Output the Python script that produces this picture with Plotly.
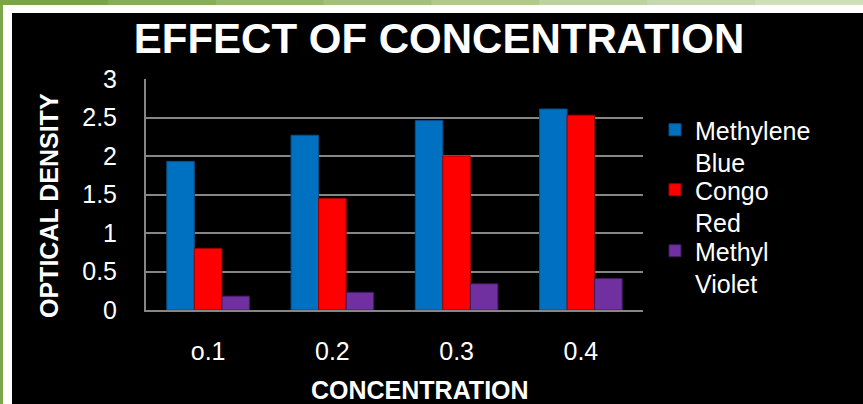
import plotly.graph_objects as go

# Absorbance readings per dye at each concentration
concentrations = ["o.1", "0.2", "0.3", "0.4"]
methylene_blue = [1.93, 2.27, 2.46, 2.61]
congo_red = [0.80, 1.45, 2.00, 2.53]
methyl_violet = [0.18, 0.23, 0.34, 0.41]
series_names = ["Methylene<br>Blue", "Congo<br>Red", "Methyl<br>Violet"]

W, H = 863, 404
L, R, T, B = 146, 220, 79, 94
PW, PH = W - L - R, H - T - B

FONT = "Liberation Sans, Arial, sans-serif"


def px(x):
    return (x - L) / PW


def py(y):
    return (H - B - y) / PH


fig = go.Figure()
colors = ["#0070C0", "#FF0000", "#7030A0"]
edges = ["#0a4f86", "#a00000", "#3f1a5c"]
legend_ids = ["legend", "legend2", "legend3"]
for name, vals, c, e, lg in zip(series_names, [methylene_blue, congo_red, methyl_violet],
                                colors, edges, legend_ids):
    fig.add_trace(go.Bar(
        x=concentrations, y=vals, name=name, legend=lg,
        marker=dict(color=c, line=dict(color=e, width=1)),
    ))

shapes = []
# green backdrop strip along the top, darker on the left, paler to the right
greens = ["#79a548", "#86ae58", "#94b76a", "#a2c07c", "#b0c98e", "#bcd29f", "#c6d9ae", "#cde0b8"]
seg = W / len(greens)
for i, g in enumerate(greens):
    shapes.append(dict(type="rect", xref="paper", yref="paper", layer="below",
                       x0=px(i * seg), x1=px((i + 1) * seg + 1), y0=py(0), y1=py(6),
                       fillcolor=g, line=dict(width=0)))
# white frame and black panel
shapes.append(dict(type="rect", xref="paper", yref="paper", layer="below",
                   x0=px(3), x1=px(W + 2), y0=py(5), y1=py(H + 2),
                   fillcolor="white", line=dict(width=0)))
shapes.append(dict(type="rect", xref="paper", yref="paper", layer="below",
                   x0=px(12), x1=px(W + 2), y0=py(13), y1=py(H + 2),
                   fillcolor="black", line=dict(width=0)))


def legend_box(top):
    return dict(x=px(655), xanchor="left", y=py(top), yanchor="top",
                font=dict(family=FONT, size=25, color="white"),
                bgcolor="rgba(0,0,0,0)", valign="top")


fig.update_layout(
    width=W, height=H,
    margin=dict(l=L, r=R, t=T, b=B),
    paper_bgcolor="#7ba64b",
    plot_bgcolor="rgba(0,0,0,0)",
    barmode="group", bargap=0.335, bargroupgap=0,
    shapes=shapes,
    title=dict(text="EFFECT OF CONCENTRATION", x=439 / W, xanchor="center",
               y=1 - 38 / H, yanchor="middle",
               font=dict(family=FONT, size=42, color="white", weight="bold")),
    font=dict(family=FONT, color="white"),
    legend=legend_box(107),
    legend2=legend_box(167),
    legend3=legend_box(228),
    showlegend=True,
    annotations=[
        dict(text="CONCENTRATION", xref="paper", yref="paper",
             x=px(420), y=py(390), xanchor="center", yanchor="middle", showarrow=False,
             font=dict(family=FONT, size=25, color="white", weight="bold")),
        dict(text="OPTICAL DENSITY", xref="paper", yref="paper", textangle=-90,
             x=px(49), y=py(206), xanchor="center", yanchor="middle", showarrow=False,
             font=dict(family=FONT, size=25, color="white", weight="bold")),
    ],
)

fig.update_yaxes(range=[0, 3], dtick=0.5,
                 showgrid=True, gridcolor="#868686", gridwidth=2,
                 showline=True, linecolor="#868686", linewidth=2, zeroline=False,
                 ticks="", ticklabelstandoff=22,
                 tickfont=dict(family=FONT, size=25, color="white"))
fig.update_xaxes(showline=True, linecolor="#868686", linewidth=2, showgrid=False,
                 ticks="", ticklabelstandoff=18,
                 tickfont=dict(family=FONT, size=25, color="white"))

fig.write_html("out.html")
